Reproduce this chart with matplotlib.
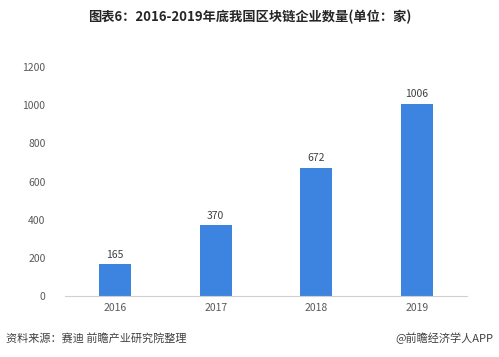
import numpy as np
import matplotlib
matplotlib.use("Agg")
import matplotlib.pyplot as plt

plt.rcParams['font.family'] = ['Noto Sans CJK SC', 'DejaVu Sans']

# 数据
years = ['2016', '2017', '2018', '2019']
counts = [165, 370, 672, 1006]
yticks = [0, 200, 400, 600, 800, 1000, 1200]

fig = plt.figure(figsize=(4.99, 3.57), dpi=100)
ax = fig.add_axes([0.130, 0.171, 0.806, 0.641])

x = np.arange(len(years))
ax.bar(x, counts, width=0.32, color='#3C84E0')

for xi, v in zip(x, counts):
    ax.text(xi, v + 25, str(v), ha='center', va='bottom', fontsize=7.5, color='#404040')

ax.set_xlim(-0.5, 3.5)
ax.set_ylim(0, 1200)
ax.set_xticks(x)
ax.set_xticklabels(years)
ax.set_yticks(yticks)
ax.tick_params(axis='both', length=0, labelsize=7.5, colors='#595959')
ax.tick_params(axis='y', pad=14)
ax.tick_params(axis='x', pad=5)

for s in ['top', 'right', 'left']:
    ax.spines[s].set_visible(False)
ax.spines['bottom'].set_color('#D0D0D0')

# 标题和脚注
fig.text(0.5, 0.952, '图表6：2016-2019年底我国区块链企业数量(单位：家)',
         ha='center', va='center', fontsize=9.5, fontweight='bold', color='#262626')
fig.text(0.012, 0.053, '资料来源：赛迪 前瞻产业研究院整理',
         ha='left', va='center', fontsize=8, color='#404040')
fig.text(0.988, 0.053, '@前瞻经济学人APP',
         ha='right', va='center', fontsize=8, color='#404040')

fig.savefig('out.png', dpi=100)
